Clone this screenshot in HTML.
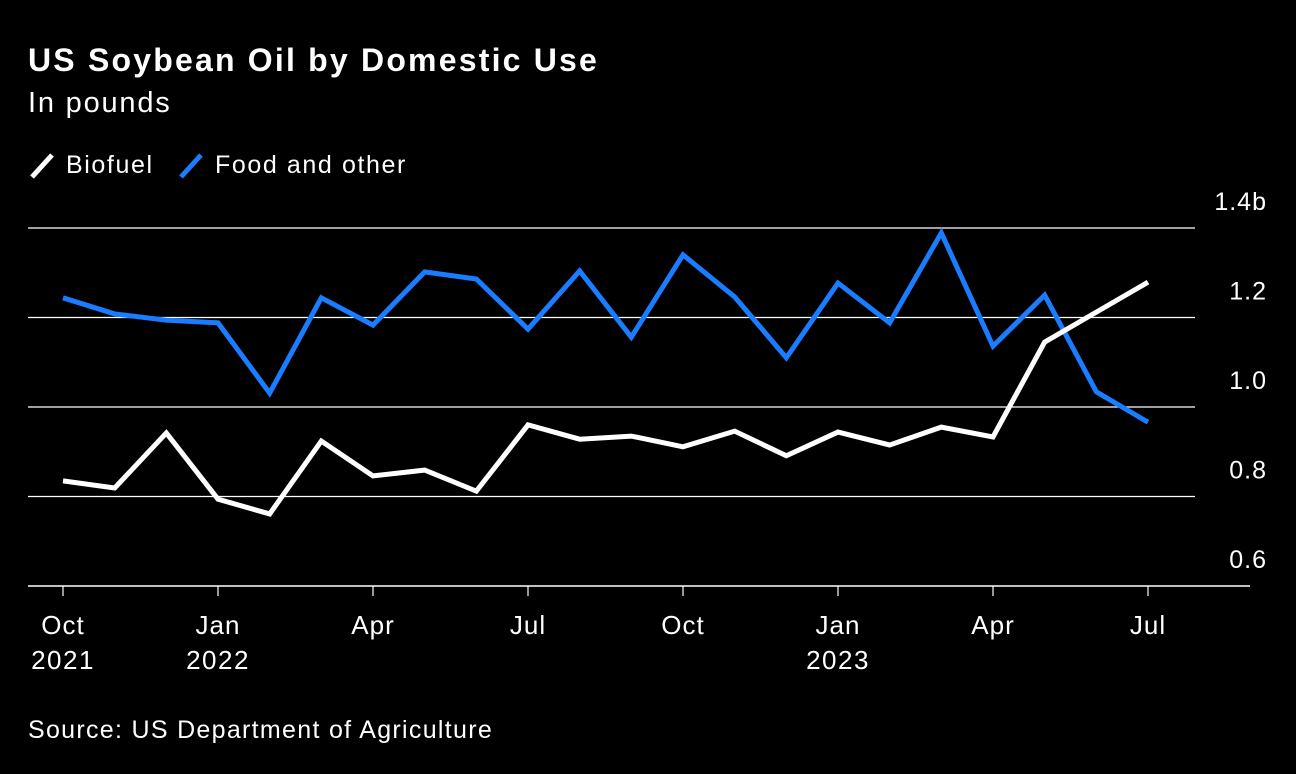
<!DOCTYPE html>
<html><head><meta charset="utf-8"><style>
body{margin:0;background:#000;width:1296px;height:774px;overflow:hidden;font-family:"Liberation Sans",sans-serif;color:#fff}
.t{position:absolute;left:28px;top:42px;font-size:32px;font-weight:bold;letter-spacing:2.2px;white-space:nowrap}
.s{position:absolute;left:28px;top:87px;font-size:29px;letter-spacing:1.8px}
.src{position:absolute;left:28px;top:716px;font-size:25px;letter-spacing:1.3px;white-space:nowrap}
</style></head><body>
<div class="t">US Soybean Oil by Domestic Use</div>
<div class="s">In pounds</div>
<svg id="c" width="1296" height="774" style="position:absolute;left:0;top:0">
<g>
<line x1="32" y1="177" x2="52" y2="155" stroke="#fff" stroke-width="5"/>
<text x="66" y="173" font-size="25" letter-spacing="1.6" fill="#fff">Biofuel</text>
<line x1="181" y1="177" x2="201" y2="155" stroke="#1a7cff" stroke-width="5"/>
<text x="215" y="173" font-size="25" letter-spacing="1.6" fill="#fff">Food and other</text>
</g>
</svg>
<div class="src">Source: US Department of Agriculture</div>
<script>
const yTicks=[0.6,0.8,1.0,1.2,1.4];
const yTickLabels=["0.6","0.8","1.0","1.2","1.4b"];
const xTickIdx=[0,3,6,9,12,15,18,21];
const xTickLabels=["Oct","Jan","Apr","Jul","Oct","Jan","Apr","Jul"];
const xTickYears=["2021","2022","","","","2023","",""];
const biofuel=[0.835,0.819,0.942,0.794,0.761,0.924,0.846,0.859,0.812,0.960,0.928,0.935,0.911,0.946,0.891,0.944,0.915,0.955,0.933,1.145,1.212,1.279];
const food=[1.244,1.208,1.194,1.188,1.031,1.244,1.183,1.302,1.286,1.174,1.304,1.156,1.340,1.246,1.110,1.277,1.188,1.389,1.136,1.250,1.034,0.966];
const svg=document.getElementById('c');const NS='http://www.w3.org/2000/svg';
const x=i=>63+i*(1148-63)/21;
const y=v=>228+(1.4-v)*447.5;
function mk(t,a){const e=document.createElementNS(NS,t);for(const k in a)e.setAttribute(k,a[k]);svg.appendChild(e);return e;}
yTicks.forEach((v,i)=>{
 const l=mk('line',{x1:28,x2:i==0?1250:1195,y1:y(v),y2:y(v),stroke:'#fff','stroke-width':i==0?1.5:1.2});
 
 
 const t=mk('text',{x:1267,y:y(v)-18,'font-size':25,'letter-spacing':1,fill:'#fff','text-anchor':'end'});t.textContent=yTickLabels[i];
 
 
});
xTickIdx.forEach((m,i)=>{
 const tk=mk('line',{x1:x(m),x2:x(m),y1:586,y2:596,stroke:'#fff','stroke-width':1.2});
 
 
 const t=mk('text',{x:x(m),y:634,'font-size':26,'letter-spacing':1,fill:'#fff','text-anchor':'middle'});t.textContent=xTickLabels[i];
 
 
 if(xTickYears[i]){const t2=mk('text',{x:x(m),y:669,'font-size':26,'letter-spacing':1.5,fill:'#fff','text-anchor':'middle'});t2.textContent=xTickYears[i];
 
 }
});
function line(d,c,n){const p=mk('polyline',{points:d.map((v,i)=>x(i)+','+y(v)).join(' '),fill:'none',stroke:c,'stroke-width':5,'stroke-linejoin':'miter','stroke-linecap':'butt'});
 
 }
line(food,'#1a7cff','food-line');
line(biofuel,'#fff','biofuel-line');
</script>
</body></html>
